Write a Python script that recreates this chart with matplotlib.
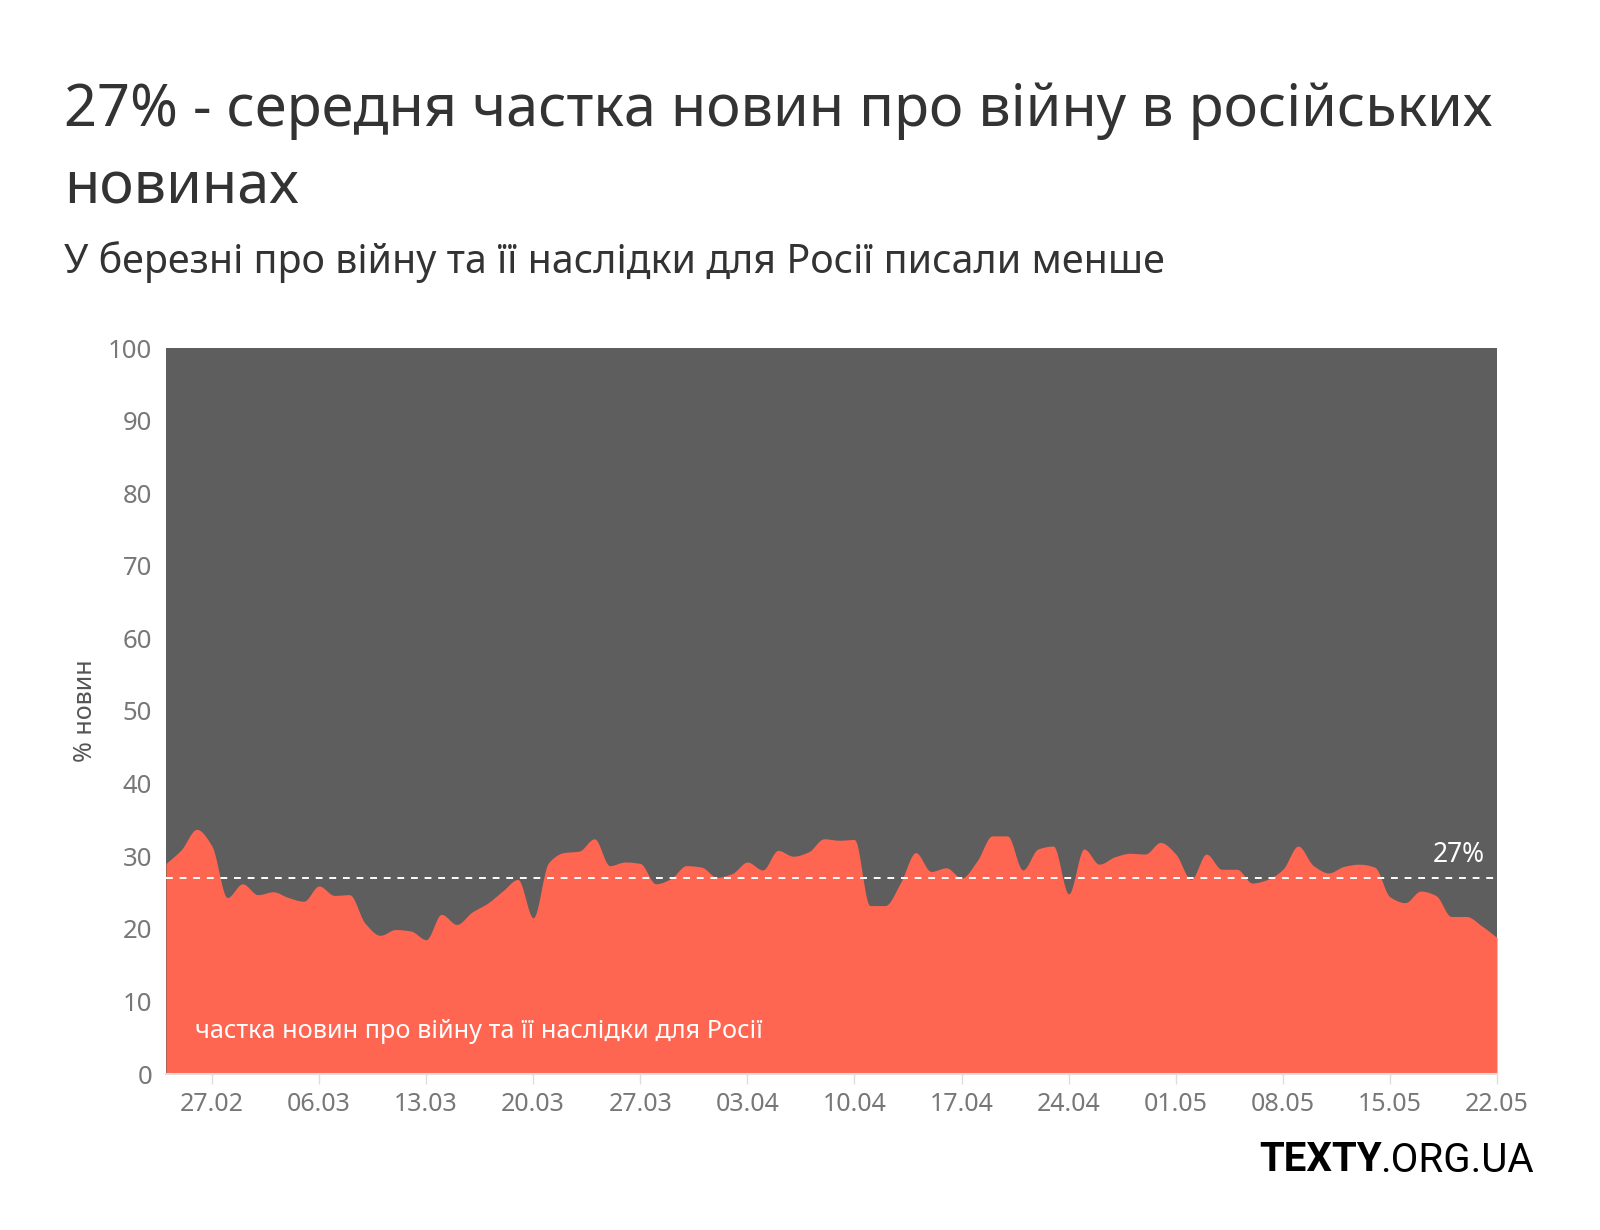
import matplotlib
matplotlib.use("Agg")
import matplotlib.pyplot as plt
import numpy as np
import pandas as pd

# daily share of war news, % (24.02 - 22.05)
start_date = "2022-02-24"
end_date = "2022-05-22"
war_share = [
    29.0, 30.9, 33.7, 31.4, 24.3, 26.2, 24.7, 25.1, 24.3, 23.8,
    25.9, 24.6, 24.7, 20.8, 19.1, 19.9, 19.7, 18.5, 22.0, 20.6,
    22.3, 23.5, 25.2, 26.8, 21.5, 29.1, 30.5, 30.7, 32.4, 28.7,
    29.2, 29.0, 26.2, 26.9, 28.7, 28.5, 27.1, 27.6, 29.2, 28.1,
    30.8, 30.0, 30.6, 32.4, 32.2, 32.3, 23.2, 23.2, 26.3, 30.5,
    27.9, 28.4, 27.0, 29.3, 32.8, 32.8, 28.1, 31.0, 31.4, 24.8,
    31.0, 28.9, 29.9, 30.4, 30.3, 31.9, 30.3, 26.8, 30.3, 28.2,
    28.2, 26.3, 26.8, 28.2, 31.4, 28.7, 27.7, 28.6, 28.9, 28.5,
    24.4, 23.6, 25.2, 24.6, 21.7, 21.7, 20.4, 18.8,
]
average = 27
y_ticks = [0, 10, 20, 30, 40, 50, 60, 70, 80, 90, 100]

title = "27% - середня частка новин про війну в російських\nновинах"
subtitle = "У березні про війну та її наслідки для Росії писали менше"
area_label = "частка новин про війну та її наслідки для Росії"

RED = "#ff6651"
DARK = "#5e5e5e"
GREY = "#777777"
FONT = "Noto Sans"


def monotone_curve(x, y, n=12):
    # monotone cubic (Fritsch-Carlson) drawing of the series
    x = np.asarray(x, float)
    y = np.asarray(y, float)
    h = np.diff(x)
    d = np.diff(y) / h
    m = np.zeros_like(y)
    m[0], m[-1] = d[0], d[-1]
    for k in range(1, len(y) - 1):
        if d[k - 1] * d[k] <= 0:
            m[k] = 0
        else:
            w1 = 2 * h[k] + h[k - 1]
            w2 = h[k] + 2 * h[k - 1]
            m[k] = (w1 + w2) / (w1 / d[k - 1] + w2 / d[k])
    xs, ys = [], []
    for k in range(len(x) - 1):
        t = np.linspace(0, 1, n, endpoint=False)
        h00 = 2 * t**3 - 3 * t**2 + 1
        h10 = t**3 - 2 * t**2 + t
        h01 = -2 * t**3 + 3 * t**2
        h11 = t**3 - t**2
        xs.append(x[k] + t * h[k])
        ys.append(h00 * y[k] + h10 * h[k] * m[k] + h01 * y[k + 1] + h11 * h[k] * m[k + 1])
    xs.append([x[-1]])
    ys.append([y[-1]])
    return np.concatenate(xs), np.concatenate(ys)


dates = pd.date_range(start_date, end_date, freq="D")
x = np.arange(len(dates))

plt.rcParams["font.family"] = [FONT, "DejaVu Sans"]

fig = plt.figure(figsize=(16, 12.3), dpi=100)
W, H = 1600, 1230
left, right, top, bottom = 166, 1497, 348, 1074
ax = fig.add_axes([left / W, 1 - bottom / H, (right - left) / W, (bottom - top) / H])

xs, ys = monotone_curve(x, war_share)
ax.fill_between(x, 0, 100, color=DARK, lw=0)
ax.fill_between(xs, 0, ys, color=RED, lw=0)
ax.axhline(average, color="white", lw=1.4, ls=(0, (3.5, 3.5)))

ax.set_xlim(x[0], x[-1])
ax.set_ylim(0, 100)
ax.set_yticks(y_ticks)
ax.tick_params(axis="y", length=0, pad=10, labelsize=18.5, labelcolor=GREY)

tick_idx = [i for i, d in enumerate(dates) if (d - pd.Timestamp("2022-02-27")).days % 7 == 0]
ax.set_xticks(tick_idx)
ax.set_xticklabels([dates[i].strftime("%d.%m") for i in tick_idx])
ax.tick_params(axis="x", length=7, width=1, color="#dddddd", pad=6, labelsize=18, labelcolor=GREY)

for s in ["top", "right", "left"]:
    ax.spines[s].set_visible(False)
ax.spines["bottom"].set_color("#dddddd")
ax.spines["bottom"].set_linewidth(1.5)

fig.text(86 / W, 1 - 711 / H, "% новин", rotation=90, ha="center", va="center",
         fontsize=18, color="#555555")

ax.text(0.022, 0.058, area_label, transform=ax.transAxes, ha="left", va="center",
        fontsize=18.2, color="white")
ax.text(x[-1] - 0.8, average + 1.2, f"{average}%", ha="right", va="bottom",
        fontsize=19, color="white")

fig.text(64 / W, 1 - 81 / H, title, ha="left", va="top", fontsize=41.5, color="#333333",
         linespacing=1.42)
fig.text(64 / W, 1 - 262 / H, subtitle, ha="left", va="center", fontsize=28.4, color="#333333")

# logo: lighter part right-aligned, bold part placed just to its left
logo_y = 1 - 1160 / H
org = fig.text(1534 / W, logo_y, ".ORG.UA", ha="right", va="center", fontsize=29,
               color="black", family=["Roboto", "DejaVu Sans"], fontweight="normal")
fig.canvas.draw()
bb = org.get_window_extent()
fig.text(bb.x0 / W + 0.001, logo_y, "TEXTY", ha="right", va="center", fontsize=29,
         color="black", family=["Roboto", "DejaVu Sans"], fontweight="bold")

fig.savefig("out.png", dpi=100, facecolor="white")
